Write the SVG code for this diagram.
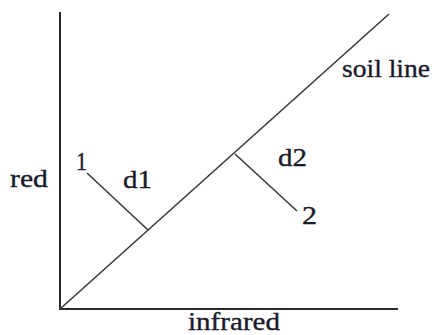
<svg xmlns="http://www.w3.org/2000/svg" width="434" height="335" viewBox="0 0 434 335">
<style>
.ax{stroke:#2a2a2a;stroke-width:2;fill:none}
.ln{stroke:#3a3a3a;stroke-width:1.6;fill:none}
text{font-family:"Liberation Serif","Times New Roman",serif;font-size:26px;fill:#1a1a2a;stroke:#1a1a2a;stroke-width:0.35}
</style>
<rect width="434" height="335" fill="#fff"/>
<g id="axes">
<line class="ax" x1="60" y1="12" x2="60" y2="310"/>
<line class="ax" x1="59" y1="309" x2="398" y2="309"/>
</g>
<g id="connectors">
<line class="ln" x1="60" y1="309" x2="389" y2="14"/>
<line class="ln" x1="87" y1="173" x2="148" y2="230"/>
<line class="ln" x1="235" y1="154" x2="297" y2="211"/>
</g>
<g id="labels">
<text x="342" y="77" textLength="88" lengthAdjust="spacingAndGlyphs">soil line</text>
<text x="10" y="187" textLength="38" lengthAdjust="spacingAndGlyphs">red</text>
<text x="76" y="170" textLength="11" lengthAdjust="spacingAndGlyphs">1</text>
<text x="123" y="188" textLength="29" lengthAdjust="spacingAndGlyphs">d1</text>
<text x="278" y="166" textLength="29" lengthAdjust="spacingAndGlyphs">d2</text>
<text x="302" y="224" textLength="15" lengthAdjust="spacingAndGlyphs">2</text>
<text x="188" y="330" textLength="92" lengthAdjust="spacingAndGlyphs">infrared</text>
</g>
</svg>
